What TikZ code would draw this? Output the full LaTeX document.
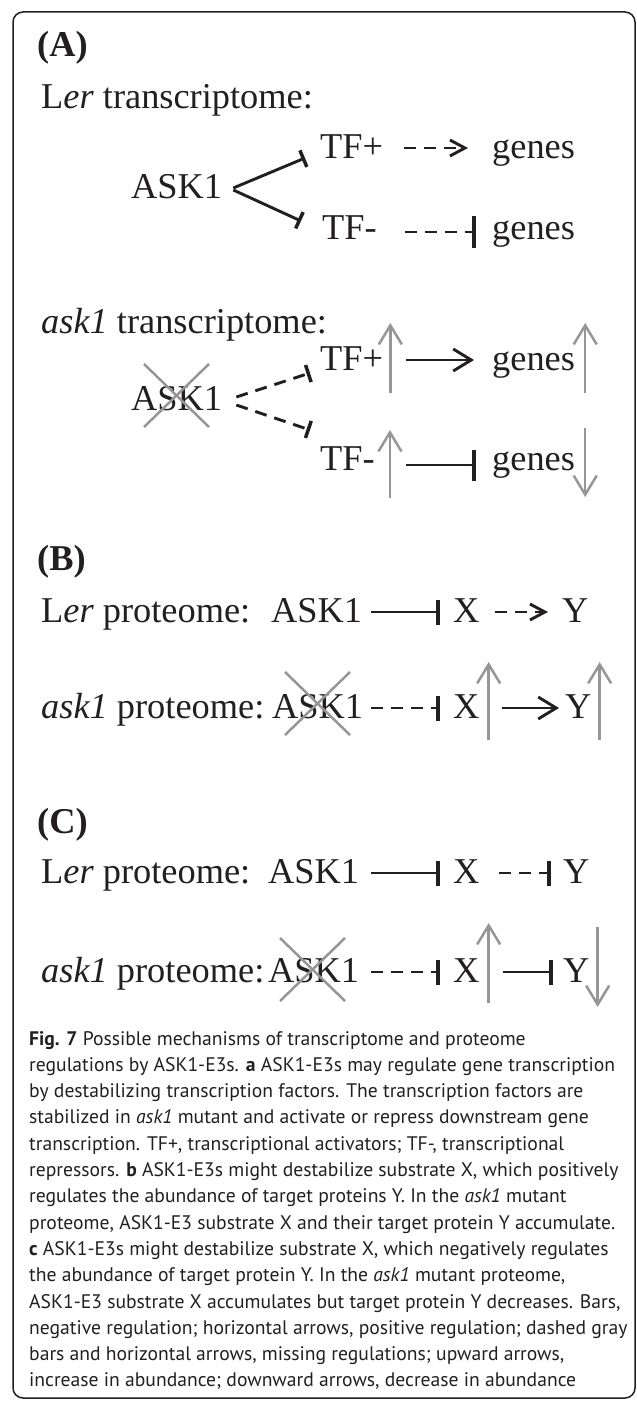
\documentclass[tikz,border=0pt]{standalone}
\usepackage{fontspec}
\setmainfont{Liberation Serif}
\newfontfamily\capfont{PT Sans}
\usetikzlibrary{arrows.meta,calc}
\definecolor{ink}{RGB}{35,31,32}
\definecolor{arrowgray}{RGB}{150,150,150}
\begin{document}
\begin{tikzpicture}[x=1bp,y=-1bp,
  txt/.style={anchor=base west, inner sep=0pt, text=ink, font=\fontsize{36.5}{40}\selectfont},
  txtb/.style={txt, font=\fontsize{36.5}{40}\selectfont\bfseries},
  captxt/.style={anchor=base west, inner sep=0pt, text=ink, font=\capfont\fontsize{19.7}{26.3}\selectfont},
  blk/.style={line width=2.9bp, draw=ink},
  dsh/.style={blk, dash pattern=on 12bp off 8bp},
  inhs/.style={-{Bar[width=18bp,line width=3.5bp]}},
  inhm/.style={-{Bar[width=25bp,line width=4bp]}},
  inhl/.style={-{Bar[width=31bp,line width=4.5bp]}},
  act/.style={-{Straight Barb[length=18bp,width=22bp,line width=2.9bp]}},
  dact/.style={-{Straight Barb[length=15bp,width=16bp,line width=2.9bp]}},
  gup/.style={line width=2.5bp, draw=arrowgray, -{Straight Barb[length=19bp,width=23bp,line width=2.5bp]}},
  xcross/.style={line width=2.5bp, draw=arrowgray},
]
\useasboundingbox (0,0) rectangle (637,1401);
\draw[line width=1.5bp, draw=ink, rounded corners=10bp] (13,12) rectangle (635,1398);

% ---------- Panel A ----------
\node[txtb] (labA) at (37,57) {(A)};
\node[txt] (lerT) at (41,109) {L\textit{er} transcriptome:};
\node[txt] (askA) at (131,199) {ASK1};
\node[txt] (tfpA) at (320,159) {TF+};
\node[txt] (tfmA) at (322,240) {TF-};
\node[txt] (genA1) at (492,159) {genes};
\node[txt] (genA2) at (492,240) {genes};
\draw[blk,inhs] ($(askA.base east)+(11,-11)$) -- ($(tfpA.base west)+(-15,-1)$);
\draw[blk,inhs] ($(askA.base east)+(11,-9)$) -- ($(tfmA.base west)+(-21,-19)$);
\draw[dsh,dact] ($(tfpA.base east)+(21,-11)$) -- ($(genA1.base west)+(-24,-11)$);
\draw[dsh,inhl] ($(tfmA.base east)+(28,-8)$) -- ($(genA2.base west)+(-16,-8)$);

\node[txt] (askT) at (41,333) {\textit{ask1} transcriptome:};
\node[txt] (askA2) at (131,410) {ASK1};
\draw[xcross] ($(askA2.base west)+(13,-46)$) -- ($(askA2.base west)+(78,17)$);
\draw[xcross] ($(askA2.base west)+(78,-46)$) -- ($(askA2.base west)+(13,17)$);
\node[txt] (tfpB) at (320,370) {TF+};
\node[txt] (tfmB) at (320,470) {TF-};
\node[txt] (genB1) at (492,370) {genes};
\node[txt] (genB2) at (492,470) {genes};
\draw[dsh,inhs] ($(askA2.base east)+(14,-13)$) -- ($(tfpB.base west)+(-10,3)$);
\draw[dsh,inhs] ($(askA2.base east)+(14,-5)$) -- ($(tfmB.base west)+(-10,-40)$);
\draw[gup] ($(tfpB.base east)+(7,23)$) -- ++(0,-70);
\draw[blk,act] ($(tfpB.base east)+(23,-10)$) -- ($(genB1.base west)+(-18,-10)$);
\draw[gup] ($(genB1.base east)+(10,23)$) -- ++(0,-70);
\draw[gup] ($(tfmB.base east)+(15,28)$) -- ++(0,-68);
\draw[blk,inhl] ($(tfmB.base east)+(31,-5)$) -- ($(genB2.base west)+(-16,-5)$);
\draw[gup] ($(genB2.base east)+(10,-42)$) -- ++(0,69);

% ---------- Panel B ----------
\node[txtb] (labB) at (37,570) {(B)};
\node[txt] (lerB) at (41,622) {L\textit{er} proteome:};
\node[txt] (askB1) at (271,622) {ASK1};
\node[txt] (xB1) at (453,622) {X};
\node[txt] (yB1) at (562,622) {Y};
\draw[blk,inhm] ($(askB1.base east)+(9,-10)$) -- ($(xB1.base west)+(-13,-10)$);
\draw[dsh,dact] ($(xB1.base east)+(15,-10)$) -- ($(yB1.base west)+(-14,-10)$);

\node[txt] (askBl) at (41,718) {\textit{ask1} proteome:};
\node[txt] (askB2) at (272,718) {ASK1};
\draw[xcross] ($(askB2.base west)+(13,-46)$) -- ($(askB2.base west)+(78,17)$);
\draw[xcross] ($(askB2.base west)+(78,-46)$) -- ($(askB2.base west)+(13,17)$);
\node[txt] (xB2) at (453,718) {X};
\node[txt] (yB2) at (565,718) {Y};
\draw[dsh,inhm] ($(askB2.base east)+(8,-10)$) -- ($(xB2.base west)+(-13,-10)$);
\draw[gup] ($(xB2.base east)+(9,22)$) -- ++(0,-78);
\draw[blk,act] ($(xB2.base east)+(22,-10)$) -- ($(yB2.base west)+(-6,-10)$);
\draw[gup] ($(yB2.base east)+(8,22)$) -- ++(0,-78);

% ---------- Panel C ----------
\node[txtb] (labC) at (37,833) {(C)};
\node[txt] (lerC) at (41,883) {L\textit{er} proteome:};
\node[txt] (askC1) at (268,883) {ASK1};
\node[txt] (xC1) at (453,883) {X};
\node[txt] (yC1) at (563,883) {Y};
\draw[blk,inhm] ($(askC1.base east)+(12,-10)$) -- ($(xC1.base west)+(-13,-10)$);
\draw[dsh,inhm] ($(xC1.base east)+(19,-10)$) -- ($(yC1.base west)+(-12,-10)$);

\node[txt] (askCl) at (41,982) {\textit{ask1} proteome:};
\node[txt] (askC2) at (268,982) {ASK1};
\draw[xcross] ($(askC2.base west)+(12,-44)$) -- ($(askC2.base west)+(77,19)$);
\draw[xcross] ($(askC2.base west)+(77,-44)$) -- ($(askC2.base west)+(12,19)$);
\node[txt] (xC2) at (453,982) {X};
\node[txt] (yC2) at (563,982) {Y};
\draw[dsh,inhm] ($(askC2.base east)+(12,-10)$) -- ($(xC2.base west)+(-13,-10)$);
\draw[gup] ($(xC2.base east)+(9,21)$) -- ++(0,-80);
\draw[blk,inhm] ($(xC2.base east)+(23,-10)$) -- ($(yC2.base west)+(-10,-10)$);
\draw[gup] ($(yC2.base east)+(8,-55)$) -- ++(0,80);

% ---------- Caption ----------
\foreach \t [count=\i] in {
  {\textbf{Fig. 7} Possible mechanisms of transcriptome and proteome},
  {regulations by ASK1-E3s. \textbf{a} ASK1-E3s may regulate gene transcription},
  {by destabilizing transcription factors. The transcription factors are},
  {stabilized in \textit{ask1} mutant and activate or repress downstream gene},
  {transcription. TF+, transcriptional activators; TF-, transcriptional},
  {repressors. \textbf{b} ASK1-E3s might destabilize substrate X, which positively},
  {regulates the abundance of target proteins Y. In the \textit{ask1} mutant},
  {proteome, ASK1-E3 substrate X and their target protein Y accumulate.},
  {\textbf{c} ASK1-E3s might destabilize substrate X, which negatively regulates},
  {the abundance of target protein Y. In the \textit{ask1} mutant proteome,},
  {ASK1-E3 substrate X accumulates but target protein Y decreases. Bars,},
  {negative regulation; horizontal arrows, positive regulation; dashed gray},
  {bars and horizontal arrows, missing regulations; upward arrows,},
  {increase in abundance; downward arrows, decrease in abundance}}
  \node[captxt] (cap\i) at (29,{1045+(\i-1)*26.3}) {\t};
\end{tikzpicture}
\end{document}
